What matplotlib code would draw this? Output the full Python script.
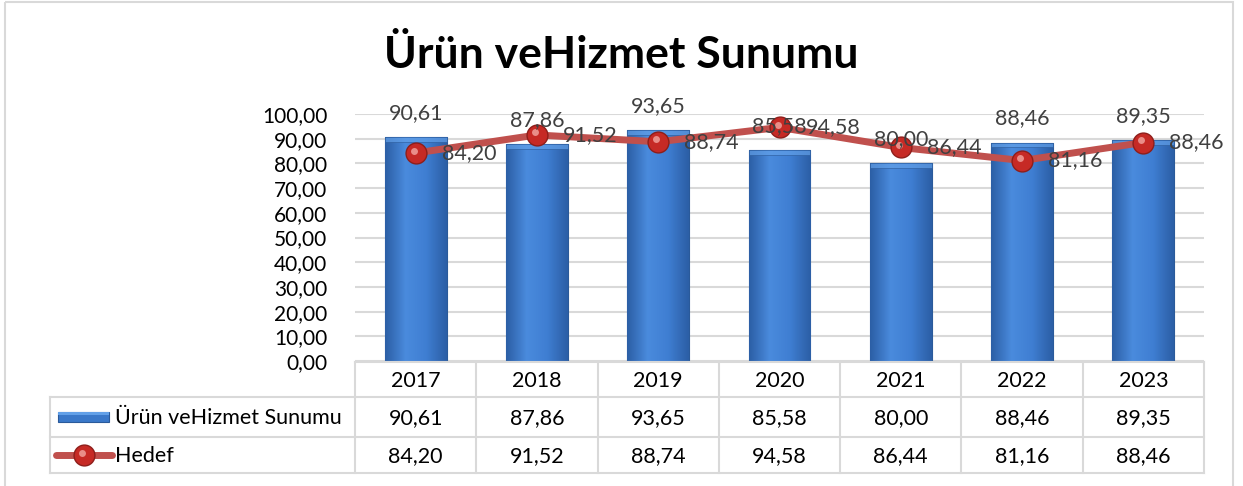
#!/usr/bin/env python3
import numpy as np
import matplotlib
matplotlib.use("Agg")
import matplotlib.pyplot as plt
from matplotlib.colors import LinearSegmentedColormap
from matplotlib.patches import Rectangle
from matplotlib.transforms import offset_copy

plt.rcParams['font.family'] = ['Lato', 'DejaVu Sans']

title = "Ürün veHizmet Sunumu"
years = ["2017", "2018", "2019", "2020", "2021", "2022", "2023"]
sunum = [90.61, 87.86, 93.65, 85.58, 80.00, 88.46, 89.35]
hedef = [84.20, 91.52, 88.74, 94.58, 86.44, 81.16, 88.46]
series_names = ["Ürün veHizmet Sunumu", "Hedef"]

def fmt(v):
    return f"{v:.2f}".replace(".", ",")

W, H = 1243, 486
fig = plt.figure(figsize=(W / 100, H / 100), dpi=100)

# plot area in pixels
px0, px1 = 355, 1204
py_top, py_bot = 114, 361
ax = fig.add_axes([px0 / W, 1 - py_bot / H, (px1 - px0) / W, (py_bot - py_top) / H])

x = np.arange(len(years))
bars = ax.bar(x, sunum, width=0.51, color='#3A78C9', edgecolor='#2A5A9A',
              linewidth=0.8, zorder=2)

# shaded look on bars
cmap = LinearSegmentedColormap.from_list('bevel', ['#2C5FA6', '#4A8BDD', '#3F7ED2', '#2C5FA6'])
grad = np.linspace(0, 1, 64).reshape(1, -1)
for b in bars:
    bx, bw, bh = b.get_x(), b.get_width(), b.get_height()
    im = ax.imshow(grad, extent=[bx, bx + bw, 0, bh], aspect='auto', cmap=cmap, zorder=2.1)
    im.set_clip_path(b)
    # soft top bevel
    ax.add_patch(Rectangle((bx, bh - 2.0), bw, 2.0, facecolor='#62A0E8', edgecolor='#2A5A9A',
                           lw=0.6, alpha=0.7, zorder=2.2))

ax.plot(x, hedef, color='#C0504D', lw=5, zorder=3, solid_capstyle='round')
ax.plot(x, hedef, 'o', ms=15, mfc='#C62A25', mec='#8E1E1A', mew=1, zorder=4)
hl = offset_copy(ax.transData, fig=fig, x=-2, y=2.5, units='dots')
ax.plot(x, hedef, 'o', ms=5, mfc='#F0A09A', mec='none', zorder=4.1, alpha=0.85, transform=hl)

for xi, v in zip(x, sunum):
    ax.annotate(fmt(v), (xi, v), xytext=(0, 24), textcoords='offset pixels',
                ha='center', va='center', fontsize=15.5, color='#404040', zorder=5)
for xi, v in zip(x, hedef):
    ax.annotate(fmt(v), (xi, v), xytext=(26, 0), textcoords='offset pixels',
                ha='left', va='center', fontsize=15.5, color='#404040', zorder=5)

ax.set_xlim(-0.5, len(years) - 0.5)
ax.set_ylim(0, 100)
ax.set_yticks(np.arange(0, 101, 10))
ax.set_yticklabels([fmt(v) for v in np.arange(0, 101, 10)], fontsize=15)
ax.set_xticks([])
ax.tick_params(axis='y', length=0, pad=20)
ax.grid(axis='y', color='#D9D9D9', lw=1.5, zorder=0)
ax.set_axisbelow(True)
for s in ax.spines.values():
    s.set_visible(False)

# overlay in pixel coordinates for table, title and border
ov2 = fig.add_axes([0, 0, 1, 1])
ov2.set_xlim(0, W)
ov2.set_ylim(H, 0)
ov2.axis('off')

ov2.add_patch(Rectangle((5, 2), 1228, 490, facecolor='none', edgecolor='#D9D9D9', lw=1.5))
ov2.text(621, 55, title, ha='center', va='center', fontsize=32, fontweight='bold', color='black')

gc = '#D9D9D9'
colw = (px1 - px0) / len(years)
r0, r1, r2, r3 = 362, 397, 437, 473
leg_x = 50
fs = 15.5
# vertical lines
for i in range(len(years) + 1):
    ov2.plot([px0 + i * colw] * 2, [r0, r3], color=gc, lw=1.5)
ov2.plot([leg_x, leg_x], [r1, r3], color=gc, lw=1.5)
ov2.plot([px0, px1], [r0, r0], color=gc, lw=1.5)
for yy in (r1, r2, r3):
    ov2.plot([leg_x, px1], [yy, yy], color=gc, lw=1.5)

for i, yr in enumerate(years):
    cx = px0 + (i + 0.5) * colw
    ov2.text(cx, (r0 + r1) / 2 + 1, yr, ha='center', va='center', fontsize=fs)
    ov2.text(cx, (r1 + r2) / 2 + 1, fmt(sunum[i]), ha='center', va='center', fontsize=fs)
    ov2.text(cx, (r2 + r3) / 2 + 1, fmt(hedef[i]), ha='center', va='center', fontsize=fs)

# legend keys
ym1 = (r1 + r2) / 2
ov2.add_patch(Rectangle((58, ym1 - 5), 51, 10, facecolor='#3A78C9', edgecolor='#2A5A9A', lw=0.8))
ov2.add_patch(Rectangle((58, ym1 - 5), 51, 2.5, facecolor='#62A0E8', edgecolor='none'))
ym2 = (r2 + r3) / 2
ov2.plot([56, 112], [ym2, ym2], color='#C0504D', lw=5, solid_capstyle='round')
ov2.plot([84], [ym2], 'o', ms=15, mfc='#C62A25', mec='#8E1E1A', mew=1)
ov2.plot([82], [ym2 - 2.5], 'o', ms=5, mfc='#F0A09A', mec='none', alpha=0.85)
ov2.text(115, ym1 + 1, series_names[0], ha='left', va='center', fontsize=fs)
ov2.text(115, ym2 + 1, series_names[1], ha='left', va='center', fontsize=fs)

fig.savefig("out.png", dpi=100)
